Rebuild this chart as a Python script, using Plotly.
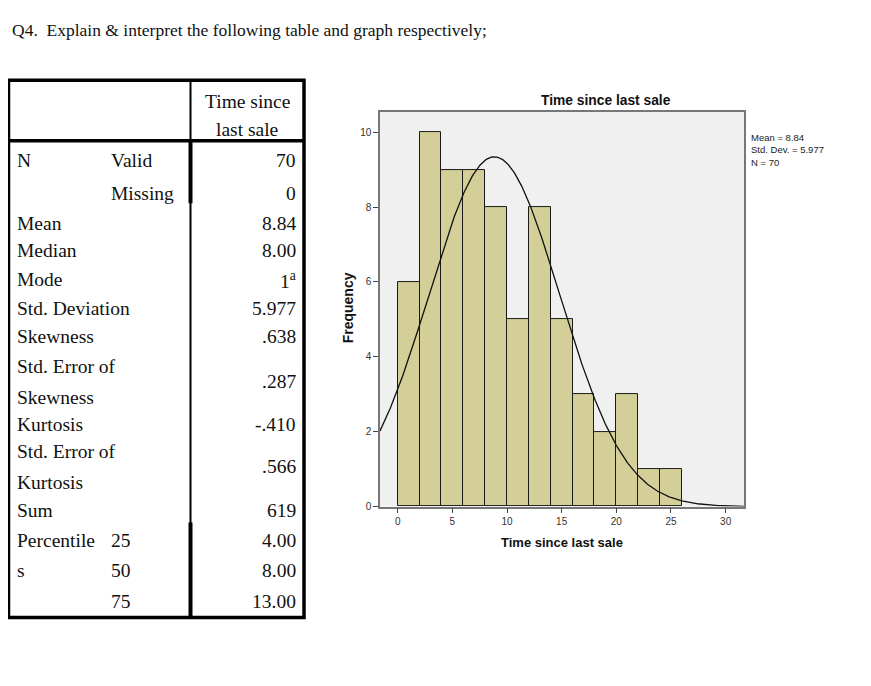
import numpy as np
import plotly.graph_objects as go

# Page has an 8px body margin, so the figure is made 8px smaller and coordinates shifted.
OFF = 8
W, H = 871 - OFF, 686 - OFF

# ---------------- data ----------------
bin_left = [0, 2, 4, 6, 8, 10, 12, 14, 16, 18, 20, 22, 24]
counts = [6, 10, 9, 9, 8, 5, 8, 5, 3, 2, 3, 1, 1]
bin_width = 2
mean_val = 8.84
sd_val = 5.977
n_val = 70

x_ticks = [0, 5, 10, 15, 20, 25, 30]
y_ticks = [0, 2, 4, 6, 8, 10]

table_labels = ["N", "", "Mean", "Median", "Mode", "Std. Deviation", "Skewness",
                "Std. Error of|Skewness", "Kurtosis", "Std. Error of|Kurtosis",
                "Sum", "Percentile", "s", ""]
table_sub = ["Valid", "Missing", "", "", "", "", "", "", "", "", "", "25", "50", "75"]
table_values = ["70", "0", "8.84", "8.00", "1<sup>a</sup>", "5.977", ".638", ".287",
                "-.410", ".566", "619", "4.00", "8.00", "13.00"]
table_header = ["Time since", "last sale"]

# ---------------- helpers ----------------
def px(x):
    return (x - OFF) / W

def py(y):
    return 1 - (y - OFF) / H

centers = [b + bin_width / 2 for b in bin_left]
xs = np.linspace(-1.62, 31.68, 400)
ys = n_val * bin_width * np.exp(-0.5 * ((xs - mean_val) / sd_val) ** 2) / (sd_val * np.sqrt(2 * np.pi))

fig = go.Figure()
fig.add_trace(go.Bar(x=centers, y=counts, width=bin_width,
                     marker=dict(color="#D4CF98", line=dict(color="#1a1a1a", width=1)),
                     hoverinfo="skip", showlegend=False))
fig.add_trace(go.Scatter(x=xs, y=ys, mode="lines", line=dict(color="#111111", width=1.3),
                         hoverinfo="skip", showlegend=False))

serif = "Liberation Serif"
sans = "Liberation Sans"
annotations = []

def txt(text, x, y, size, xanchor="left", family=serif, color="#111", bold=False, yanchor="middle", align="left"):
    if bold:
        text = "<b>" + text + "</b>"
    annotations.append(dict(text=text, x=px(x), y=py(y), xref="paper", yref="paper",
                            xanchor=xanchor, yanchor=yanchor, showarrow=False, align=align,
                            font=dict(family=family, size=size, color=color)))

# Question title
txt("Q4.  Explain &amp; interpret the following table and graph respectively;", 10, 30, 17.5)

# Table text
TS = 19.5
txt(table_header[0], 247, 102, TS, xanchor="center")
txt(table_header[1], 247, 131, TS, xanchor="center")
row_y = [162, 195, 225, 253, 282, 311, 339, 385, 428, 471, 515, 545, 576, 607]
for lab, sub, val, yy in zip(table_labels, table_sub, table_values, row_y):
    if lab:
        if "|" in lab:
            a, b = lab.split("|")
            txt(a, 15, yy - 15.5, TS)
            txt(b, 15, yy + 15.5, TS)
        else:
            txt(lab, 15, yy, TS)
    if sub:
        txt(sub, 109, yy, TS)
    txt(val, 298, yy, TS, xanchor="right")

# Chart texts
txt("Time since last sale", 606, 101, 13.8, xanchor="center", family=sans, bold=True)
txt("Time since last sale", 562, 547, 13, xanchor="center", family=sans, bold=True)
annotations.append(dict(text="<b>Frequency</b>", x=px(348), y=py(311), xref="paper", yref="paper",
                        xanchor="center", yanchor="middle", showarrow=False, textangle=-90,
                        font=dict(family=sans, size=14, color="#111")))
txt("Mean = 8.84<br>Std. Dev. = 5.977<br>N = 70", 749, 151, 9.5, family=sans, color="#222")

# Table shapes
shapes = []
def line(x0, y0, x1, y1, w):
    shapes.append(dict(type="line", xref="paper", yref="paper", x0=px(x0), y0=py(y0),
                       x1=px(x1), y1=py(y1), line=dict(color="#000", width=w)))

shapes.append(dict(type="rect", xref="paper", yref="paper", x0=px(8.5), y0=py(81), x1=px(304), y1=py(623),
                   line=dict(color="#000", width=3.5)))
line(8, 142, 304, 142, 3.5)
line(190.5, 81, 190.5, 623, 2)
line(190.5, 142, 190.5, 205, 4)
line(190.5, 527, 190.5, 623, 4)

fig.update_layout(
    width=W, height=H, autosize=False,
    margin=dict(l=0, r=0, t=0, b=0),
    paper_bgcolor="white", plot_bgcolor="#F0F0F0",
    annotations=annotations, shapes=shapes, bargap=0,
    xaxis=dict(domain=[px(380), px(744)], range=[-1.62, 31.68], tickvals=x_ticks,
               ticks="outside", ticklen=5, tickcolor="#444", showgrid=False, zeroline=False,
               showline=True, mirror=True, linecolor="#777", linewidth=1.5,
               tickfont=dict(family=sans, size=10, color="#333")),
    yaxis=dict(domain=[py(511), py(113)], range=[0, 10.54], tickvals=y_ticks,
               ticks="outside", ticklen=5, tickcolor="#444", showgrid=False, zeroline=False,
               showline=True, mirror=True, linecolor="#777", linewidth=1.5,
               tickfont=dict(family=sans, size=10, color="#333")),
)

fig.write_html("out.html")
